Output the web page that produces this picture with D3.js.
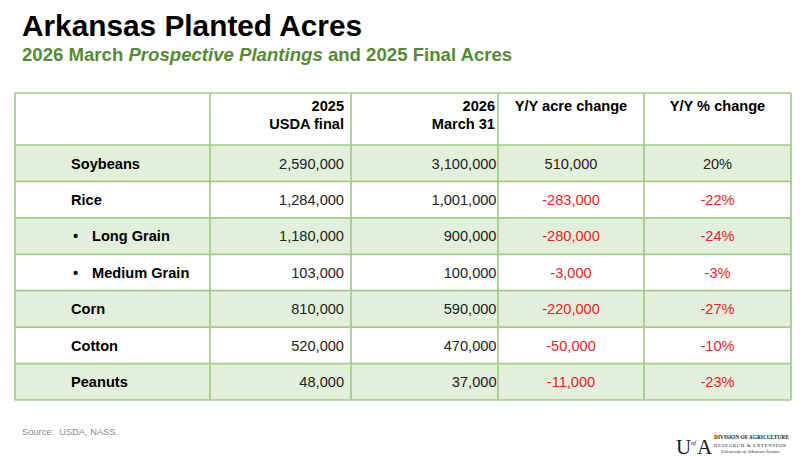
<!DOCTYPE html>
<html>
<head>
<meta charset="utf-8">
<script src="https://cdn.jsdelivr.net/npm/d3@7"></script>
<style>
  html, body { margin: 0; padding: 0; background: #fff; }
  svg { display: block; font-family: "Liberation Sans", Arial, sans-serif; }
</style>
</head>
<body>
<svg id="chart" width="803" height="466"></svg>
<script>
// ---- data ----
const crops = ["Soybeans", "Rice", "Long Grain", "Medium Grain", "Corn", "Cotton", "Peanuts"];
const subItem = [false, false, true, true, false, false, false];
const final2025 = [2590000, 1284000, 1180000, 103000, 810000, 520000, 48000];
const march2026 = [3100000, 1001000, 900000, 100000, 590000, 470000, 37000];
const acreChange = [510000, -283000, -280000, -3000, -220000, -50000, -11000];
const pctChange = [20, -22, -24, -3, -27, -10, -23];
const columnKeys = ["crop", "final", "march", "change", "pct"];
const headerLines = [[], ["2025", "USDA final"], ["2026", "March 31"], ["Y/Y acre change"], ["Y/Y % change"]];

// ---- layout ----
const svg = d3.select("#chart");
const green = "#568a35", border = "#a3cc87", fill = "#e2efda", red = "#e8212b";
const tableLeft = 15, tableRight = 791, tableTop = 93, headerBottom = 145, tableBottom = 400;
const fs = 14.6;

const colWidths = [195, 141, 147, 146, 147];
const colEdges = [tableLeft];
colWidths.forEach(w => colEdges.push(colEdges[colEdges.length - 1] + w));
const colX = d3.scaleOrdinal().domain(columnKeys).range(colEdges.slice(0, 5));
const colW = d3.scaleOrdinal().domain(columnKeys).range(colWidths);

const y = d3.scaleBand().domain(crops).range([headerBottom, tableBottom]);

// Title
svg.append("text").attr("x", 22).attr("y", 36)
  .attr("font-size", 29.8).attr("font-weight", "bold").attr("fill", "#000")
  .text("Arkansas Planted Acres");
const sub = svg.append("text").attr("x", 22).attr("y", 61)
  .attr("font-size", 18.6).attr("font-weight", "bold").attr("fill", green);
sub.append("tspan").text("2026 March ");
sub.append("tspan").attr("font-style", "italic").text("Prospective Plantings");
sub.append("tspan").text(" and 2025 Final Acres");

// Row shading
svg.append("g").selectAll("rect").data(crops).join("rect")
  .attr("x", tableLeft).attr("width", tableRight - tableLeft)
  .attr("y", d => y(d)).attr("height", y.bandwidth())
  .attr("fill", (d, i) => i % 2 === 0 ? fill : "#fff");

// Grid lines
const grid = svg.append("g").attr("stroke", border).attr("stroke-width", 1.7).attr("fill", "none");
const hLines = [tableTop, headerBottom].concat(crops.map(c => y(c) + y.bandwidth()));
grid.selectAll("line.h").data(hLines).join("line").attr("class", "h")
  .attr("x1", tableLeft).attr("x2", tableRight).attr("y1", d => d).attr("y2", d => d);
grid.selectAll("line.v").data(colEdges).join("line").attr("class", "v")
  .attr("y1", tableTop).attr("y2", tableBottom).attr("x1", d => d).attr("x2", d => d);

// Header
const locale = d3.formatLocale({ decimal: ".", thousands: ",", grouping: [3], currency: ["$", ""], minus: "-" });
const fmt = locale.format(",");
const header = svg.append("g").attr("font-size", fs).attr("font-weight", "bold").attr("fill", "#000");
headerLines.forEach((lines, ci) => {
  const key = columnKeys[ci];
  lines.forEach((t, li) => {
    const right = ci === 1 || ci === 2;
    header.append("text")
      .attr("x", right ? colX(key) + colW(key) - (ci === 1 ? 7 : 3) : colX(key) + colW(key) / 2)
      .attr("y", 111 + li * 18)
      .attr("text-anchor", right ? "end" : "middle")
      .text(t);
  });
});

// Body
const body = svg.append("g").attr("font-size", fs);
crops.forEach((c, i) => {
  const cy = y(c) + y.bandwidth() / 2 + 5.3;
  if (subItem[i]) {
    body.append("text").attr("x", colX("crop") + 58).attr("y", cy).attr("font-weight", "bold").text("•");
    body.append("text").attr("x", colX("crop") + 77).attr("y", cy).attr("font-weight", "bold").text(c);
  } else {
    body.append("text").attr("x", colX("crop") + 56).attr("y", cy).attr("font-weight", "bold").text(c);
  }
  body.append("text").attr("x", colX("final") + colW("final") - 7).attr("y", cy)
    .attr("text-anchor", "end").attr("fill", "#222").text(fmt(final2025[i]));
  body.append("text").attr("x", colX("march") + colW("march") - 1.5).attr("y", cy)
    .attr("text-anchor", "end").attr("fill", "#222").text(fmt(march2026[i]));
  body.append("text").attr("x", colX("change") + colW("change") / 2).attr("y", cy)
    .attr("text-anchor", "middle").attr("fill", acreChange[i] < 0 ? red : "#222")
    .text(fmt(acreChange[i]));
  body.append("text").attr("x", colX("pct") + colW("pct") / 2).attr("y", cy)
    .attr("text-anchor", "middle").attr("fill", pctChange[i] < 0 ? red : "#222")
    .text(pctChange[i] + "%");
});

// Source
svg.append("text").attr("x", 22).attr("y", 435).attr("font-size", 9.3).attr("fill", "#8a8a8a")
  .attr("xml:space", "preserve").text("Source:  USDA, NASS.");

// Logo
const logo = svg.append("g").attr("font-family", "'Liberation Serif', 'DejaVu Serif', serif").attr("fill", "#1a1a1a");
logo.append("text").attr("x", 676).attr("y", 454).attr("font-size", 21).text("U");
logo.append("text").attr("x", 691).attr("y", 445).attr("font-size", 6.5).attr("font-style", "italic").text("of");
logo.append("text").attr("x", 697).attr("y", 454).attr("font-size", 21).text("A");
logo.append("text").attr("x", 714).attr("y", 439).attr("font-size", 5.4).attr("font-weight", "bold")
  .text("DIVISION OF AGRICULTURE");
logo.append("text").attr("x", 714).attr("y", 446.5).attr("font-size", 5)
  .attr("letter-spacing", 0.6).text("RESEARCH & EXTENSION");
logo.append("text").attr("x", 721).attr("y", 453).attr("font-size", 4.8).attr("font-style", "italic")
  .text("University of Arkansas System");
</script>
</body>
</html>
